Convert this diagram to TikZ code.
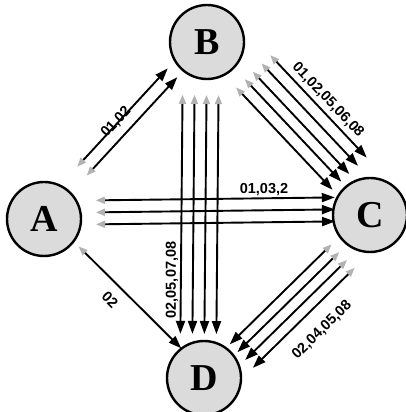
\documentclass[tikz,border=0pt]{standalone}
\usepackage{fontspec}
\setmainfont{Liberation Serif}
\setsansfont{Liberation Sans}
\usetikzlibrary{calc,arrows.meta}

\begin{document}
\begin{tikzpicture}[
  x=1pt,y=1pt,
  stn/.style={circle,draw,line width=2.4pt,fill=gray!28,minimum size=74pt,inner sep=0pt,font=\fontsize{38}{40}\selectfont\bfseries},
  lbl/.style={font=\fontsize{14.5}{16}\selectfont\sffamily\bfseries,inner sep=1pt},
  arr/.style={{Triangle[gray!60,length=9pt,width=7pt,sep=4pt]}-{Triangle[length=13pt,width=9pt]},line width=1.9pt}]
\useasboundingbox (0,0) rectangle (406,412);
\node[stn] (A) at (44,193) {A};
\node[stn] (B) at (207,370) {B};
\node[stn] (C) at (370,197) {C};
\node[stn] (D) at (204,34) {D};
\draw[arr,shorten <=57pt,shorten >=46pt] ($(A)!11pt!90:(B)$) -- ($(B)!11pt!-90:(A)$);
\draw[arr,shorten <=57pt,shorten >=46pt] ($(A)!-2pt!90:(B)$) -- ($(B)!-2pt!-90:(A)$);
\draw[arr,shorten <=48pt,shorten >=35pt] ($(A)!18pt!90:(C)$) -- ($(C)!18pt!-90:(A)$);
\draw[arr,shorten <=48pt,shorten >=35pt] ($(A)!6pt!90:(C)$) -- ($(C)!6pt!-90:(A)$);
\draw[arr,shorten <=48pt,shorten >=35pt] ($(A)!-6pt!90:(C)$) -- ($(C)!-6pt!-90:(A)$);
\draw[arr,shorten <=40pt,shorten >=37pt] ($(A)!5pt!90:(D)$) -- ($(D)!5pt!-90:(A)$);
\draw[arr,shorten <=49pt,shorten >=44pt] ($(B)!-24pt!90:(D)$) -- ($(D)!-24pt!-90:(B)$);
\draw[arr,shorten <=49pt,shorten >=44pt] ($(B)!-12pt!90:(D)$) -- ($(D)!-12pt!-90:(B)$);
\draw[arr,shorten <=49pt,shorten >=44pt] ($(B)!0pt!90:(D)$) -- ($(D)!0pt!-90:(B)$);
\draw[arr,shorten <=49pt,shorten >=44pt] ($(B)!12pt!90:(D)$) -- ($(D)!12pt!-90:(B)$);
\draw[arr,shorten <=49pt,shorten >=44pt] ($(B)!-10pt!90:(C)$) -- ($(C)!-10pt!-90:(B)$);
\draw[arr,shorten <=49pt,shorten >=44pt] ($(B)!2pt!90:(C)$) -- ($(C)!2pt!-90:(B)$);
\draw[arr,shorten <=49pt,shorten >=44pt] ($(B)!13pt!90:(C)$) -- ($(C)!13pt!-90:(B)$);
\draw[arr,shorten <=49pt,shorten >=44pt] ($(B)!25pt!90:(C)$) -- ($(C)!25pt!-90:(B)$);
\draw[arr,shorten <=49pt,shorten >=44pt] ($(B)!37pt!90:(C)$) -- ($(C)!37pt!-90:(B)$);
\draw[arr,shorten <=44pt,shorten >=42pt] ($(C)!-6pt!90:(D)$) -- ($(D)!-6pt!-90:(C)$);
\draw[arr,shorten <=44pt,shorten >=42pt] ($(C)!5pt!90:(D)$) -- ($(D)!5pt!-90:(C)$);
\draw[arr,shorten <=44pt,shorten >=42pt] ($(C)!16pt!90:(D)$) -- ($(D)!16pt!-90:(C)$);
\draw[arr,shorten <=44pt,shorten >=42pt] ($(C)!27pt!90:(D)$) -- ($(D)!27pt!-90:(C)$);
\node[lbl,rotate=47] (lab) at (116,290) {01,02};
\node[lbl,rotate=-46.5] (lbc) at (328,312) {01,02,05,06,08};
\node[lbl] (lac) at (264,222) {01,03,2};
\node[lbl,rotate=90] (lbd) at (172,132) {02,05,07,08};
\node[lbl,rotate=-45] (lad) at (110,112) {02};
\node[lbl,rotate=44.5] (lcd) at (322,82) {02,04,05,08};
\end{tikzpicture}
\end{document}
